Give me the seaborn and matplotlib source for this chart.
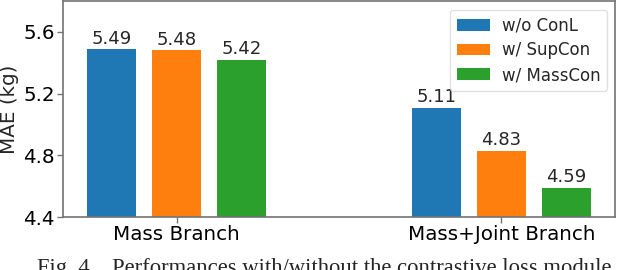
import pandas as pd
import numpy as np
import matplotlib
matplotlib.use("Agg")
import matplotlib.pyplot as plt
import seaborn as sns

# values
branches = ["Mass Branch", "Mass+Joint Branch"]
methods = ["w/o ConL", "w/ SupCon", "w/ MassCon"]
mae_wo_conl = [5.49, 5.11]
mae_supcon = [5.48, 4.83]
mae_masscon = [5.42, 4.59]
yticks = [4.4, 4.8, 5.2, 5.6]

df = pd.DataFrame({
    "branch": branches * 3,
    "method": [methods[0]] * 2 + [methods[1]] * 2 + [methods[2]] * 2,
    "mae": mae_wo_conl + mae_supcon + mae_masscon,
})

sns.set_style("ticks")
plt.rcParams["font.family"] = ["DejaVu Sans"]
plt.rcParams["axes.edgecolor"] = "0.45"
plt.rcParams["xtick.color"] = "0.45"
plt.rcParams["ytick.color"] = "0.45"
plt.rcParams["xtick.labelcolor"] = "black"
plt.rcParams["ytick.labelcolor"] = "black"

fig = plt.figure(figsize=(6.18, 2.70), dpi=100)
ax = fig.add_axes([0.102, 0.196, 0.893, 0.80])

sns.barplot(data=df, x="branch", y="mae", hue="method", palette="tab10",
            width=0.6, gap=0.25, saturation=1, edgecolor="none", ax=ax)

for c in ax.containers:
    ax.bar_label(c, fmt="%.2f", padding=1, fontsize=13)

ax.set_ylim(4.4, 5.8)
ax.set_xlim(-0.35, 1.35)
ax.set_yticks(yticks)
ax.set_yticklabels([f"{t:.1f}" for t in yticks])
ax.tick_params(axis="both", labelsize=14.3, length=4, width=1, pad=2)
ax.set_xlabel("")
ax.set_ylabel("MAE (kg)", fontsize=14.3)
ax.yaxis.set_label_coords(-0.079, 0.5)
for s in ax.spines.values():
    s.set_visible(True)
    s.set_linewidth(1.2)

leg = ax.legend(loc="upper right", fontsize=12, frameon=True,
                handlelength=2.0, handletextpad=0.7, borderpad=0.4,
                labelspacing=0.4, borderaxespad=0,
                bbox_to_anchor=(0.9855, 0.958))
leg.get_frame().set_edgecolor("0.85")

fig.text(0.06, -0.015, "Fig. 4.   Performances with/without the contrastive loss module",
         family="Liberation Serif", fontsize=16.3, ha="left", va="baseline")

fig.savefig("out.png", dpi=100)
